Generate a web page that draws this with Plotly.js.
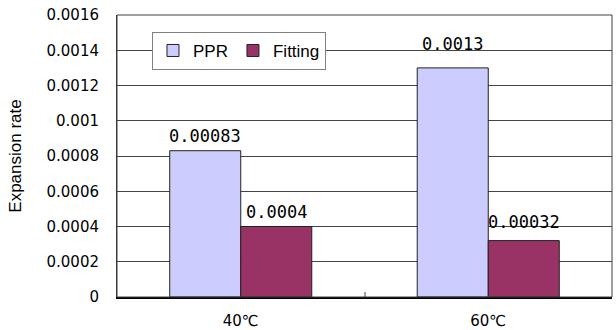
<!DOCTYPE html>
<html>
<head>
<meta charset="utf-8">
<script src="https://cdn.plot.ly/plotly-3.0.1.min.js"></script>
<style>
  html, body { margin: 0; padding: 0; background: #ffffff; }
  #chart { width: 616px; height: 330px; }
</style>
</head>
<body>
<div id="chart"></div>
<script>
// Expansion rate of PPR pipe vs. fitting at two temperatures
const categories = ['40℃', '60℃'];
const pprValues = [0.00083, 0.0013];
const fittingValues = [0.0004, 0.00032];
const seriesNames = ['PPR', 'Fitting'];
const yTickVals = [0, 0.0002, 0.0004, 0.0006, 0.0008, 0.001, 0.0012, 0.0014, 0.0016];
const yTickText = ['0', '0.0002', '0.0004', '0.0006', '0.0008', '0.001', '0.0012', '0.0014', '0.0016'];

const barGap = 0.426;
const barHalf = (1 - barGap) / 4;   // half the width of one bar, in category units

const labelFont = { family: 'DejaVu Sans Mono', size: 17, color: '#000000' };

function valueLabels(values, side, shifts) {
  return values.map((v, i) => ({
    xref: 'x', yref: 'y',
    x: i + side * barHalf,
    y: v,
    text: String(v),
    showarrow: false,
    xanchor: 'center',
    yanchor: 'bottom',
    yshift: shifts[i],
    font: labelFont
  }));
}

const traces = [
  {
    type: 'bar',
    name: seriesNames[0],
    x: categories,
    y: pprValues,
    marker: { color: '#CCCCFF', line: { color: '#222222', width: 1 } },
    hoverinfo: 'none'
  },
  {
    type: 'bar',
    name: seriesNames[1],
    x: categories,
    y: fittingValues,
    marker: { color: '#993366', line: { color: '#222222', width: 1 } },
    hoverinfo: 'none'
  }
];

const layout = {
  width: 616,
  height: 330,
  margin: { l: 117, r: 4, t: 15, b: 33 },
  paper_bgcolor: '#ffffff',
  plot_bgcolor: '#ffffff',
  barmode: 'group',
  bargap: barGap,
  bargroupgap: 0,
  showlegend: true,
  legend: {
    orientation: 'h',
    x: 0.0707, xanchor: 'left',
    y: 0.94, yanchor: 'top',
    bgcolor: '#ffffff',
    bordercolor: '#808080',
    borderwidth: 1,
    font: { family: 'Liberation Sans', size: 17, color: '#000000' },
    itemwidth: 30,
    traceorder: 'normal'
  },
  xaxis: {
    type: 'category',
    showgrid: false,
    zeroline: false,
    showline: true,
    linecolor: '#000000',
    linewidth: 1.5,
    ticks: 'inside',
    tickson: 'boundaries',
    ticklen: 5,
    tickwidth: 2,
    tickcolor: '#a0a0a0',
    ticklabelstandoff: 9,
    tickfont: { family: 'DejaVu Sans', size: 15, color: '#000000' },
    fixedrange: true
  },
  yaxis: {
    range: [0, 0.0016],
    tickvals: yTickVals,
    ticktext: yTickText,
    showgrid: true,
    gridcolor: '#444444',
    gridwidth: 1,
    zeroline: false,
    showline: true,
    linecolor: '#333333',
    linewidth: 1,
    ticks: '',
    ticklabelstandoff: 14,
    tickfont: { family: 'DejaVu Sans', size: 15, color: '#000000' },
    title: {
      text: 'Expansion rate',
      standoff: 20,
      font: { family: 'Liberation Sans', size: 17, color: '#000000' }
    },
    fixedrange: true
  },
  shapes: [
    {
      type: 'rect', xref: 'paper', yref: 'paper',
      x0: 0, x1: 1, y0: 0, y1: 1,
      line: { color: '#404040', width: 1 },
      fillcolor: 'rgba(0,0,0,0)',
      layer: 'above'
    }
  ],
  annotations: [
    ...valueLabels(pprValues, -1, [3, 12]),
    ...valueLabels(fittingValues, 1, [3, 7])
  ]
};

Plotly.newPlot('chart', traces, layout, { staticPlot: true, displayModeBar: false });
</script>
</body>
</html>
